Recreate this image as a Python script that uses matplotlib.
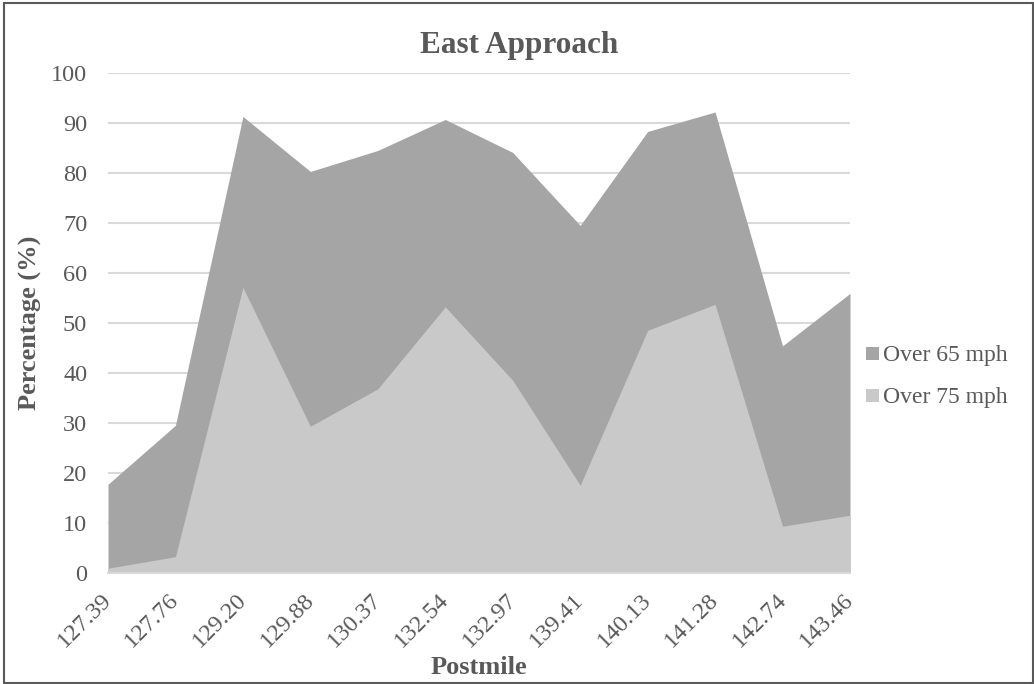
import matplotlib
matplotlib.use("Agg")
import matplotlib.pyplot as plt
from matplotlib.patches import Rectangle
from matplotlib.transforms import ScaledTranslation

postmiles = ["127.39", "127.76", "129.20", "129.88", "130.37", "132.54",
             "132.97", "139.41", "140.13", "141.28", "142.74", "143.46"]
over65 = [17.7, 29.5, 91.3, 80.3, 84.5, 90.7, 84.1, 69.5, 88.3, 92.2, 45.4, 55.9]
over75 = [0.9, 3.2, 57.1, 29.3, 36.8, 53.2, 38.5, 17.5, 48.5, 53.7, 9.3, 11.5]
yticks = [0, 10, 20, 30, 40, 50, 60, 70, 80, 90, 100]
series_names = ['Over 65 mph', 'Over 75 mph']

plt.rcParams['font.family'] = ['Liberation Serif', 'DejaVu Serif']
txt = '#595959'

W, H = 1034, 684
fig = plt.figure(figsize=(W / 100, H / 100), dpi=100)
ax = fig.add_axes([108 / W, 1 - 572.7 / H, (850 - 108) / W, (572.7 - 73) / H])

x = list(range(len(postmiles)))
colors = ['#a5a5a5', '#c9c9c9']
ax.fill_between(x, 0, over65, color=colors[0], linewidth=0, zorder=2)
ax.fill_between(x, 0, over75, color=colors[1], linewidth=0, zorder=3)

ax.set_xlim(0, len(postmiles) - 1)
ax.set_ylim(0, 100)
ax.set_yticks(yticks)
ax.set_yticklabels([str(v) for v in yticks])
ax.set_xticks(x)
ax.set_xticklabels(postmiles, rotation=45, ha='right', va='top', rotation_mode='anchor')
ax.tick_params(axis='both', length=0, labelsize=17.5, colors=txt)
ax.tick_params(axis='y', pad=15)
ax.tick_params(axis='x', pad=12)
off = ScaledTranslation(-7 / 100, 0, fig.dpi_scale_trans)
for lbl in ax.get_xticklabels():
    lbl.set_transform(lbl.get_transform() + off)

ax.grid(axis='y', color='#d9d9d9', linewidth=1.5, zorder=1)
ax.set_axisbelow(True)
for s in ['top', 'right', 'left']:
    ax.spines[s].set_visible(False)
ax.spines['bottom'].set_color('#d9d9d9')
ax.spines['bottom'].set_linewidth(1.5)
ax.spines['bottom'].set_zorder(5)

ax.set_xlabel('Postmile', fontsize=19, fontweight='bold', color=txt, va='baseline')
ax.xaxis.set_label_coords(479 / W, 1 - 674 / H, transform=fig.transFigure)
ax.set_ylabel('Percentage (%)', fontsize=19, fontweight='bold', color=txt, va='center')
ax.yaxis.set_label_coords(30 / W, 1 - 323 / H, transform=fig.transFigure)

fig.text(519 / W, 1 - 53 / H, 'East Approach', fontsize=22.5, fontweight='bold',
         color=txt, ha='center', va='baseline')

# legend
leg_rows = [353.5, 395]
for name, col, yc in zip(series_names, colors, leg_rows):
    fig.patches.append(Rectangle((866 / W, 1 - (yc + 6.5) / H), 13 / W, 13 / H,
                                 transform=fig.transFigure, facecolor=col,
                                 edgecolor='none'))
    fig.text(883 / W, 1 - yc / H, name, fontsize=17, color=txt,
             ha='left', va='center_baseline')

fig.patches.append(Rectangle((4 / W, 1.5 / H), (1032.5 - 4) / W, (682 - 2) / H,
                             transform=fig.transFigure, fill=False,
                             edgecolor='#595959', linewidth=1.5))

fig.savefig('out.png', dpi=100)
